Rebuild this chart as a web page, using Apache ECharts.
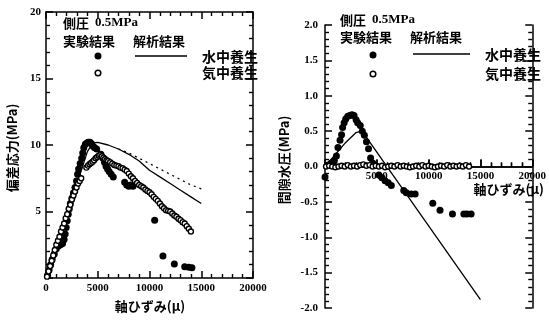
<!DOCTYPE html>
<html>
<head>
<meta charset="utf-8">
<script src="https://cdn.jsdelivr.net/npm/echarts@6/dist/echarts.min.js"></script>
<style>
  html, body { margin: 0; padding: 0; background: #fff; }
  #chart { width: 549px; height: 321px; }
</style>
</head>
<body>
<div id="chart"></div>
<script>
// 偏差応力 – 軸ひずみ (left panel), [strain μ, stress MPa]
const stressWaterExp = [
  [150,0.2],[300,0.6],[450,1.0],[600,1.4],[800,1.8],[1000,2.2],[1200,2.4],[1400,2.5],
  [1600,2.6],[1750,2.9],[1850,3.3],[1950,3.8],[2050,4.3],[2150,4.8],[2250,5.2],[2350,5.6],
  [2500,6.0],[2650,6.4],[2800,6.8],[2950,7.3],[3050,7.8],[3150,8.2],[3300,8.6],[3450,9.0],
  [3550,9.4],[3650,9.8],[3800,10.05],[3950,10.15],[4100,10.2],[4250,10.2],[4400,10.1],
  [4550,9.9],[4700,9.8],[4900,9.7],[5300,9.3],[5500,9.0],[5650,8.7],[5800,8.4],[5950,8.2],
  [6100,8.0],[6300,7.8],[6500,7.6],[7600,7.2],[7800,7.0],[8000,6.9],[8200,7.0],[8400,6.9],
  [10500,4.35],[11300,1.65],[12400,1.05],[13400,0.85],[13800,0.8],[14100,0.78]
];
const stressAirExp = [
  [100,0.1],[250,0.5],[400,0.9],[550,1.3],[700,1.7],[850,2.1],[1000,2.5],[1150,2.8],
  [1300,3.1],[1450,3.5],[1600,3.8],[1750,4.1],[1900,4.5],[2050,4.8],[2200,5.2],[2350,5.5],
  [2500,5.9],[2650,6.2],[2800,6.5],[2950,6.8],[3100,7.1],[3250,7.3],[3400,7.5],
  [3900,8.3],[4050,8.45],[4200,8.55],[4350,8.65],[4500,8.75],[4650,8.85],[4800,9.0],
  [4950,9.1],[5100,9.2],[5250,9.25],[5400,9.15],[5550,9.05],[5700,8.95],[5850,8.85],
  [6000,8.8],[6200,8.7],[6400,8.6],[6600,8.5],[6800,8.45],[7000,8.4],[7200,8.3],[7400,8.25],
  [7600,8.15],[7800,8.05],[8000,7.85],[8200,7.65],[8400,7.5],[8600,7.3],[8800,7.15],
  [9000,7.0],[9200,6.9],[9400,6.8],[9600,6.65],[9800,6.55],[10000,6.45],[10200,6.3],
  [10400,6.1],[10600,5.95],[10800,5.8],[11000,5.6],[11200,5.4],[11400,5.25],[11600,5.1],
  [11800,5.05],[12000,5.0],[12200,4.85],[12400,4.7],[12600,4.6],[12800,4.45],[13000,4.35],
  [13200,4.2],[13400,4.1],[13600,3.9],[13800,3.7],[14000,3.5]
];
const stressWaterCalc = [
  [0,0],[500,1.2],[1000,2.5],[1500,3.7],[2000,4.9],[2500,6.0],[3000,7.1],[3500,8.3],
  [4000,9.5],[4500,10.15],[5000,10.2],[6000,10.0],[7000,9.7],[8000,9.3],[9000,8.8],
  [10000,8.1],[11000,7.6],[12000,7.1],[13000,6.6],[14000,6.1],[15000,5.6]
];
const stressAirCalc = [
  [7000,9.7],[8000,9.4],[9000,9.0],[10000,8.6],[11000,8.2],[12000,7.8],[13000,7.4],
  [14000,7.0],[15000,6.7]
];

// 間隙水圧 – 軸ひずみ (right panel), [strain μ, pore pressure MPa]
const poreWaterExp = [
  [0,-0.15],[300,0.02],[600,0.05],[900,0.08],[1100,0.15],[1250,0.27],[1450,0.37],[1600,0.45],
  [1700,0.55],[1850,0.62],[2000,0.67],[2200,0.71],[2400,0.72],[2600,0.73],[2800,0.72],
  [3000,0.66],[3150,0.62],[3400,0.58],[3600,0.5],[3800,0.44],[4000,0.35],[4200,0.25],
  [4400,0.12],[4600,0.05],[4800,0.02],[5200,-0.12],[5500,-0.16],[5800,-0.2],[6100,-0.23],
  [6400,-0.27],[7600,-0.34],[7850,-0.37],[8300,-0.39],[8700,-0.39],[10400,-0.52],
  [11100,-0.62],[12300,-0.67],[13400,-0.67],[13700,-0.67],[14100,-0.67]
];
const poreAirExp = [
  [100,0.0],[400,0.01],[700,0.0],[1000,-0.01],[1300,0.0],[1600,0.01],[1900,0.0],[2200,0.02],
  [2500,0.0],[2800,0.01],[3100,0.0],[3400,0.02],[3700,0.03],[4000,0.01],[4300,0.02],
  [4600,0.0],[4900,0.01],[5200,0.0],[5500,0.01],[5800,-0.01],[6100,0.0],[6400,0.01],
  [6700,0.0],[7000,0.02],[7300,0.0],[7600,0.01],[7900,0.0],[8200,-0.01],[8500,0.0],
  [8800,0.01],[9100,0.0],[9400,0.02],[9700,0.0],[10000,0.01],[10300,0.0],[10600,-0.01],
  [10900,0.0],[11200,0.01],[11500,0.0],[11800,0.02],[12100,0.0],[12400,0.01],[12700,0.0],
  [13000,0.01],[13300,0.0],[13600,0.02],[13900,0.0]
];
const poreWaterCalc = [
  [0,0],[1000,0.17],[2000,0.34],[3000,0.48],[3500,0.5],[4000,0.41],[15000,-1.88]
];

// axis ranges and tick steps
const strainMax = 20000, strainStep = 5000;
const stressMax = 20, stressStep = 5;
const poreMin = -2, poreMax = 2, poreStep = 0.5;

const numFont = '"Liberation Serif", serif';
const jpFont = '"Noto Sans CJK JP", sans-serif';

const lineDef = { show: true, onZero: false, lineStyle: { color: '#000', width: 1.5 } };
const tickDef = { show: true, inside: true, length: 7, lineStyle: { color: '#000', width: 1.5 } };
const minorDef = { show: true, splitNumber: 5, length: 4, lineStyle: { color: '#000', width: 1.4 } };

function label(extra) {
  return Object.assign({ color: '#000', fontFamily: numFont, fontWeight: 'bold', fontSize: 11 }, extra);
}
// axis that carries the numeric labels
function labelAxis(extra) {
  return Object.assign({
    type: 'value', splitLine: { show: false },
    axisLine: lineDef, axisTick: tickDef, minorTick: minorDef
  }, extra);
}
// matching axis that only draws the inward major/minor ticks
function tickAxis(extra) {
  return Object.assign({
    type: 'value', splitLine: { show: false },
    axisLine: lineDef, axisTick: tickDef, minorTick: minorDef,
    axisLabel: { show: false }
  }, extra);
}

const chart = echarts.init(document.getElementById('chart'), null, { renderer: 'canvas' });

function txt(x, y, text, size) {
  return {
    type: 'text', x: x, y: y,
    style: { text: text, fill: '#000', font: 'bold ' + size + 'px ' + jpFont,
             textAlign: 'left', textVerticalAlign: 'middle' }
  };
}
function header(x, y) {
  return [
    { type: 'text', x: x, y: y, style: { text: '側圧', fill: '#000', font: 'bold 13px ' + jpFont, textVerticalAlign: 'middle' } },
    { type: 'text', x: x + 32, y: y, style: { text: '0.5MPa', fill: '#000', font: 'bold 13px ' + numFont, textVerticalAlign: 'middle' } }
  ];
}

const leftX = { gridIndex: 0, min: 0, max: strainMax, interval: strainStep };
// strain axis of the pore-pressure panel runs along the 0.0 line
const rightX = { gridIndex: 1, min: 0, max: strainMax, interval: strainStep, position: 'bottom', offset: -141.5 };
const leftY = { gridIndex: 0, min: 0, max: stressMax, interval: stressStep };
const rightY = { gridIndex: 1, min: poreMin, max: poreMax, interval: poreStep };

const option = {
  backgroundColor: '#fff',
  animation: false,
  grid: [
    { left: 46, top: 12, width: 207, height: 266 },
    { left: 325, top: 25, width: 212, height: 283 }
  ],
  xAxis: [
    labelAxis(Object.assign({}, leftX, { axisLabel: label({ margin: 5, formatter: v => String(v) }) })),
    labelAxis(Object.assign({}, rightX, { axisLabel: label({ margin: 4, showMinLabel: false, formatter: v => String(v) }) })),
    tickAxis(Object.assign({}, leftX)),
    tickAxis(Object.assign({}, rightX))
  ],
  yAxis: [
    labelAxis(Object.assign({}, leftY, { axisLabel: label({ margin: 5, showMinLabel: false }) })),
    labelAxis(Object.assign({}, rightY, { axisLabel: label({ margin: 7, formatter: v => v.toFixed(1) }) })),
    tickAxis(Object.assign({}, leftY)),
    tickAxis(Object.assign({}, rightY))
  ],
  series: [
    { type: 'line', xAxisIndex: 0, yAxisIndex: 0, data: stressWaterCalc, showSymbol: false,
      lineStyle: { color: '#000', width: 1.3 }, z: 2 },
    { type: 'line', xAxisIndex: 0, yAxisIndex: 0, data: stressAirCalc, showSymbol: false,
      lineStyle: { color: '#000', width: 1.3, type: [2, 4] }, z: 2 },
    { type: 'scatter', xAxisIndex: 0, yAxisIndex: 0, data: stressWaterExp, symbolSize: 7,
      itemStyle: { color: '#000', opacity: 1 }, z: 3 },
    { type: 'scatter', xAxisIndex: 0, yAxisIndex: 0, data: stressAirExp, symbolSize: 5,
      itemStyle: { color: '#fff', borderColor: '#000', borderWidth: 1.4, opacity: 1 }, z: 4 },

    { type: 'line', xAxisIndex: 1, yAxisIndex: 1, data: poreWaterCalc, showSymbol: false,
      lineStyle: { color: '#000', width: 1.3 }, z: 2 },
    { type: 'scatter', xAxisIndex: 1, yAxisIndex: 1, data: poreWaterExp, symbolSize: 7,
      itemStyle: { color: '#000', opacity: 1 }, z: 3 },
    { type: 'scatter', xAxisIndex: 1, yAxisIndex: 1, data: poreAirExp, symbolSize: 5,
      itemStyle: { color: '#fff', borderColor: '#000', borderWidth: 1.4, opacity: 1 }, z: 4 }
  ],
  graphic: [
    // left panel legend
    ...header(63, 23),
    txt(63, 41, '実験結果', 13),
    txt(133, 41, '解析結果', 13),
    { type: 'circle', shape: { cx: 98, cy: 56, r: 3.5 }, style: { fill: '#000' } },
    { type: 'circle', shape: { cx: 98, cy: 73, r: 2.8 }, style: { fill: '#fff', stroke: '#000', lineWidth: 1.5 } },
    { type: 'line', shape: { x1: 135, y1: 56, x2: 187, y2: 56 }, style: { stroke: '#000', lineWidth: 1.3 } },
    txt(202, 57, '水中養生', 14),
    txt(202, 73, '気中養生', 14),
    // left panel axis names
    { type: 'text', x: 12, y: 148, rotation: Math.PI / 2,
      style: { text: '偏差応力(MPa)', fill: '#000', font: 'bold 13px ' + jpFont, textAlign: 'center', textVerticalAlign: 'middle' } },
    { type: 'text', x: 150, y: 306, style: { text: '軸ひずみ(μ)', fill: '#000', font: 'bold 13px ' + jpFont, textAlign: 'center', textVerticalAlign: 'middle' } },

    // right panel legend
    ...header(340, 20),
    txt(340, 37, '実験結果', 13),
    txt(410, 37, '解析結果', 13),
    { type: 'circle', shape: { cx: 373, cy: 55, r: 3.5 }, style: { fill: '#000' } },
    { type: 'circle', shape: { cx: 373, cy: 74, r: 2.8 }, style: { fill: '#fff', stroke: '#000', lineWidth: 1.5 } },
    { type: 'line', shape: { x1: 413, y1: 54, x2: 470, y2: 54 }, style: { stroke: '#000', lineWidth: 1.3 } },
    txt(485, 55, '水中養生', 14),
    txt(485, 74, '気中養生', 14),
    // right panel axis names
    { type: 'text', x: 284, y: 160, rotation: Math.PI / 2,
      style: { text: '間隙水圧(MPa)', fill: '#000', font: 'bold 13px ' + jpFont, textAlign: 'center', textVerticalAlign: 'middle' } },
    { type: 'text', x: 544, y: 189, style: { text: '軸ひずみ(μ)', fill: '#000', font: 'bold 13px ' + jpFont, textAlign: 'right', textVerticalAlign: 'middle' } }
  ]
};
chart.setOption(option);
</script>
</body>
</html>
